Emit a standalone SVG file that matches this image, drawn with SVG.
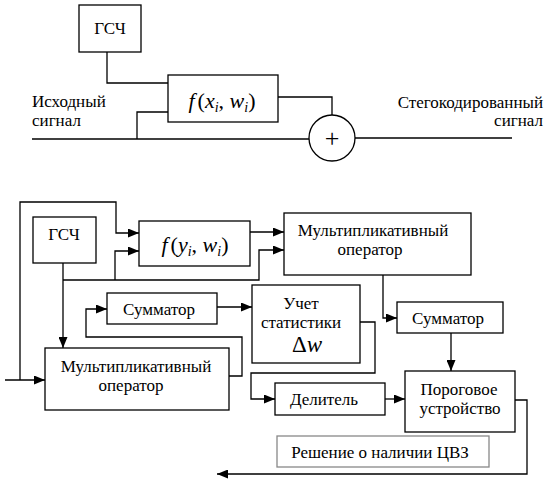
<svg xmlns="http://www.w3.org/2000/svg" width="551" height="480" viewBox="0 0 551 480" font-family="'Liberation Serif', 'Times New Roman', 'DejaVu Serif', serif">
<defs>
<marker id="arr" markerUnits="userSpaceOnUse" markerWidth="11" markerHeight="9" refX="11" refY="4.5" orient="auto">
<path d="M0,0 L11,4.5 L0,9 z" fill="#000"/>
</marker>
<style>
rect.box{fill:#fff;stroke:#000;stroke-width:1.3}
rect.gray{fill:#fff;stroke:#888;stroke-width:1.3}
.c line,.c polyline{fill:none;stroke:#000;stroke-width:1.3}
.a{marker-end:url(#arr)}
text{font-size:17px;fill:#000}
.m{text-anchor:middle}
text.math{font-size:22px}
text.plus{font-size:26px}
text.dw{font-size:23px}
.it{font-style:italic}
.sub{font-size:14px;font-style:italic}
</style>
</defs>
<rect width="551" height="480" fill="#fff"/>

<g id="connectors" class="c">
<polyline points="107,52 107,83 168,83"/>
<line x1="32" y1="139" x2="309" y2="139"/>
<polyline points="137,139 137,112 168,112"/>
<polyline points="278,97 332,97 332,115"/>
<line x1="355" y1="138" x2="512" y2="138"/>
<line class="a" x1="5" y1="380" x2="45" y2="380"/>
<polyline class="a" points="20,380 20,202 116,202 116,233 139,233"/>
<line class="a" x1="63" y1="263" x2="63" y2="348"/>
<polyline class="a" points="63,280 259,280 259,250 284,250"/>
<polyline class="a" points="115,280 115,251 139,251"/>
<line class="a" x1="250" y1="232" x2="284" y2="232"/>
<polyline class="a" points="383,275 383,318 397,318"/>
<line class="a" x1="451" y1="333" x2="451" y2="371"/>
<polyline class="a" points="515,400 527,400 527,474 217,474"/>
<line class="a" x1="217" y1="307" x2="252" y2="307"/>
<polyline class="a" points="229,376 242,376 242,337 86,337 86,309 107,309"/>
<polyline class="a" points="360,322 375,322 375,373 251,373 251,399 275,399"/>
<line class="a" x1="385" y1="399" x2="405" y2="399"/>
</g>

<g id="label-input">
<text x="32" y="107">Исходный</text>
<text x="32" y="126">сигнал</text>
</g>
<g id="label-output">
<text x="543" y="108" text-anchor="end">Стегокодированный</text>
<text x="543" y="126" text-anchor="end">сигнал</text>
</g>

<g id="gsch1">
<rect class="box" x="79" y="5" width="62" height="47"/>
<text class="m" x="110" y="34">ГСЧ</text>
</g>

<g id="f-embed">
<rect class="box" x="168" y="75" width="110" height="47"/>
<text class="math m" x="222" y="108"><tspan class="it">f</tspan><tspan dx="3">(</tspan><tspan class="it">x</tspan><tspan class="sub" dy="4">i</tspan><tspan dy="-4">, </tspan><tspan class="it">w</tspan><tspan class="sub" dy="4">i</tspan><tspan dy="-4">)</tspan></text>
</g>

<g id="adder">
<circle cx="332" cy="138" r="23" fill="#fff" stroke="#000" stroke-width="1.3"/>
<text class="m plus" x="332" y="147">+</text>
</g>

<g id="gsch2">
<rect class="box" x="33" y="217" width="63" height="46"/>
<text class="m" x="64" y="240">ГСЧ</text>
</g>

<g id="f-detect">
<rect class="box" x="139" y="221" width="111" height="45"/>
<text class="math m" x="195" y="252"><tspan class="it">f</tspan><tspan dx="3">(</tspan><tspan class="it">y</tspan><tspan class="sub" dy="4">i</tspan><tspan dy="-4">, </tspan><tspan class="it">w</tspan><tspan class="sub" dy="4">i</tspan><tspan dy="-4">)</tspan></text>
</g>

<g id="mult1">
<rect class="box" x="284" y="213" width="187" height="62"/>
<text class="m" x="373" y="236">Мультипликативный</text>
<text class="m" x="370" y="255">оператор</text>
</g>

<g id="summator1">
<rect class="box" x="107" y="293" width="110" height="31"/>
<text class="m" x="159" y="315">Сумматор</text>
</g>

<g id="stat">
<rect class="box" x="252" y="285" width="108" height="78"/>
<text class="m" x="301" y="309">Учет</text>
<text class="m" x="301" y="328">статистики</text>
<text class="m dw" x="307" y="352">Δ<tspan class="it">w</tspan></text>
</g>

<g id="summator2">
<rect class="box" x="397" y="302" width="106" height="31"/>
<text class="m" x="448" y="324">Сумматор</text>
</g>

<g id="mult2">
<rect class="box" x="45" y="348" width="184" height="62"/>
<text class="m" x="136" y="372">Мультипликативный</text>
<text class="m" x="131" y="391">оператор</text>
</g>

<g id="divider">
<rect class="box" x="275" y="383" width="110" height="32"/>
<text class="m" x="324" y="405">Делитель</text>
</g>

<g id="threshold">
<rect class="box" x="405" y="371" width="110" height="61"/>
<text class="m" x="459" y="395">Пороговое</text>
<text class="m" x="460" y="414">устройство</text>
</g>

<g id="decision">
<rect class="gray" x="277" y="436" width="212" height="31"/>
<text class="m" x="380" y="458">Решение о наличии ЦВЗ</text>
</g>
</svg>
